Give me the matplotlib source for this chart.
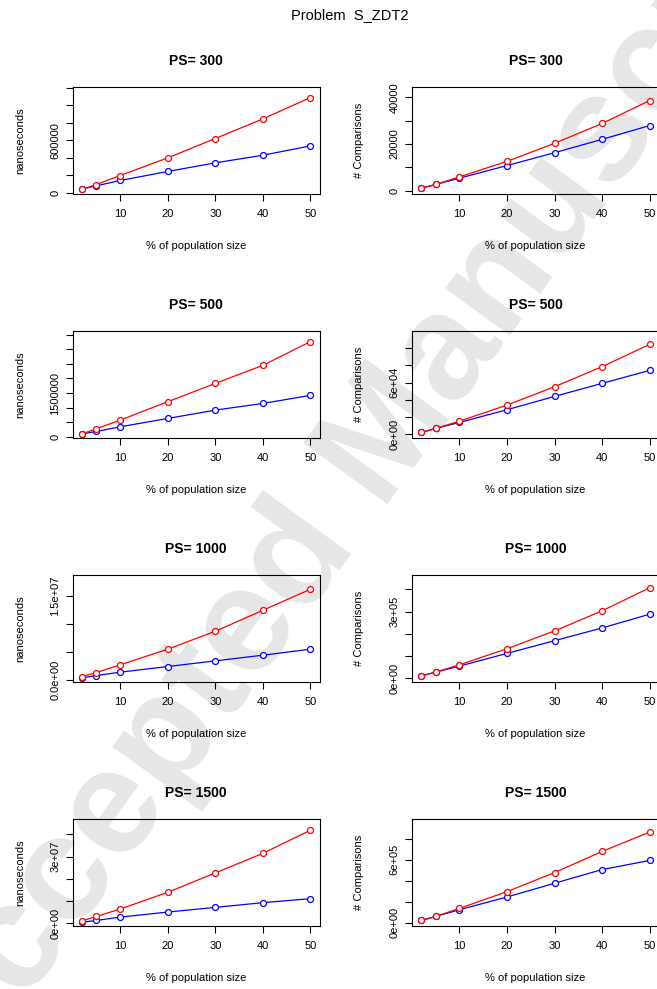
"""
Problem S_ZDT2: čas (ns) in število primerjav glede na % velikosti populacije,
za PS = 300, 500, 1000, 1500 (rdeča / modra serija).
"""

import matplotlib
matplotlib.use("Agg")
import matplotlib.pyplot as plt

plt.rcParams['font.family'] = ['Liberation Sans', 'DejaVu Sans']

# ── podatki ─────────────────────────────────────────────────────────────────

pct = [2, 5, 10, 20, 30, 40, 50]

ns_red_300 = [38000, 95000, 198000, 400000, 621000, 846000, 1090000]
ns_blue_300 = [46000, 80000, 141000, 244000, 343000, 430000, 537000]
cmp_red_300 = [1130, 2700, 5960, 12600, 20300, 28800, 38600]
cmp_blue_300 = [1130, 2700, 5400, 10800, 16300, 22000, 27900]

ns_red_500 = [103000, 275000, 572000, 1201000, 1831000, 2449000, 3261000]
ns_blue_500 = [103000, 183000, 343000, 629000, 915000, 1144000, 1419000]
cmp_red_500 = [2300, 6950, 15400, 34000, 55200, 78400, 104200]
cmp_blue_500 = [2300, 6950, 13900, 28600, 44000, 59100, 74100]

ns_red_1000 = [536000, 1250000, 2620000, 5420000, 8630000, 12380000, 16130000]
ns_blue_1000 = [298000, 714000, 1310000, 2320000, 3330000, 4350000, 5420000]
cmp_red_1000 = [10600, 27200, 60300, 132700, 212700, 303200, 407200]
cmp_blue_1000 = [10600, 27200, 54300, 111600, 168900, 226200, 288100]

ns_red_1500 = [1200000, 3160000, 6480000, 14000000, 22700000, 31500000, 41900000]
ns_blue_1500 = [600000, 1360000, 2860000, 5120000, 7230000, 9340000, 11140000]
cmp_red_1500 = [22300, 60500, 137000, 296200, 477700, 678300, 863000]
cmp_blue_1500 = [22300, 60500, 124200, 245200, 375800, 506400, 592400]

# (naslov, oznaka y, rdeča, modra, ylim, y ticki, prikazane oznake)
PANELI = [
    ("PS= 300", "nanoseconds", ns_red_300, ns_blue_300, (-11400, 1207600),
     [0, 2e5, 4e5, 6e5, 8e5, 1e6, 1.2e6], {0: "0", 6e5: "600000"}),
    ("PS= 300", "# Comparisons", cmp_red_300, cmp_blue_300, (-1280, 44260),
     [0, 1e4, 2e4, 3e4, 4e4], {0: "0", 2e4: "20000", 4e4: "40000"}),
    ("PS= 500", "nanoseconds", ns_red_500, ns_blue_500, (-34000, 3616000),
     [0, 5e5, 1e6, 1.5e6, 2e6, 2.5e6, 3e6, 3.5e6], {0: "0", 1.5e6: "1500000"}),
    ("PS= 500", "# Comparisons", cmp_red_500, cmp_blue_500, (-3860, 119300),
     [0, 2e4, 4e4, 6e4, 8e4, 1e5], {0: "0e+00", 6e4: "6e+04"}),
    ("PS= 1000", "nanoseconds", ns_red_1000, ns_blue_1000, (-357000, 18690000),
     [0, 5e6, 1e7, 1.5e7], {0: "0.0e+00", 1.5e7: "1.5e+07"}),
    ("PS= 1000", "# Comparisons", cmp_red_1000, cmp_blue_1000, (-15000, 464600),
     [0, 1e5, 2e5, 3e5, 4e5], {0: "0e+00", 3e5: "3e+05"}),
    ("PS= 1500", "nanoseconds", ns_red_1500, ns_blue_1500, (-1050000, 46800000),
     [0, 1e7, 2e7, 3e7, 4e7], {0: "0e+00", 3e7: "3e+07"}),
    ("PS= 1500", "# Comparisons", cmp_red_1500, cmp_blue_1500, (-28700, 984000),
     [0, 2e5, 4e5, 6e5, 8e5], {0: "0e+00", 6e5: "6e+05"}),
]

# ── postavitev (v pikslih) ───────────────────────────────────────────────────

W, H = 657, 989
col_left = [73, 412.3]
row_top = [87.3, 331.3, 575, 819.3]
ax_w, ax_h = 246.5, 106.5

fig = plt.figure(figsize=(W / 100, H / 100), dpi=100)

fig.text(350 / W, 1 - 15 / H, "Problem  S_ZDT2", ha="center", va="center",
         fontsize=10.5)

# vodni žig
fig.text(375 / W, 1 - 455 / H, "Accepted Manuscript", ha="center", va="center",
         rotation=54, rotation_mode="anchor", fontsize=108, fontweight="bold",
         color="#e6e6e6", zorder=-10)

for i, (naslov, ylab, red, blue, ylim, yt, ylabels) in enumerate(PANELI):
    r, c = divmod(i, 2)
    ax = fig.add_axes([col_left[c] / W, 1 - (row_top[r] + ax_h) / H,
                       ax_w / W, ax_h / H])
    ax.set_facecolor("none")
    ax.plot(pct, blue, color="blue", lw=0.9, marker="o", ms=4.3,
            mfc="white", mec="blue", mew=0.9)
    ax.plot(pct, red, color="red", lw=0.9, marker="o", ms=4.3,
            mfc="white", mec="red", mew=0.9)
    ax.set_xlim(0.08, 51.92)
    ax.set_ylim(*ylim)
    ax.set_xticks([10, 20, 30, 40, 50])
    ax.set_yticks(yt)
    ax.set_yticklabels([ylabels.get(v, "") for v in yt], rotation=90,
                       va="center")
    ax.tick_params(direction="out", length=5, width=0.8, labelsize=8, pad=6)
    ax.tick_params(axis="y", pad=4)
    for s in ax.spines.values():
        s.set_linewidth(0.8)
    ax.set_title(naslov, fontsize=10, fontweight="bold", pad=16)
    ax.set_xlabel("% of population size", fontsize=8)
    ax.set_ylabel(ylab, fontsize=8)
    ax.xaxis.set_label_coords(0.5, -52.7 / ax_h)
    ax.yaxis.set_label_coords(-53 / ax_w, 0.5)
    ax.xaxis.label.set_va("center")
    ax.yaxis.label.set_va("center")

plt.savefig("out.png", dpi=100)
